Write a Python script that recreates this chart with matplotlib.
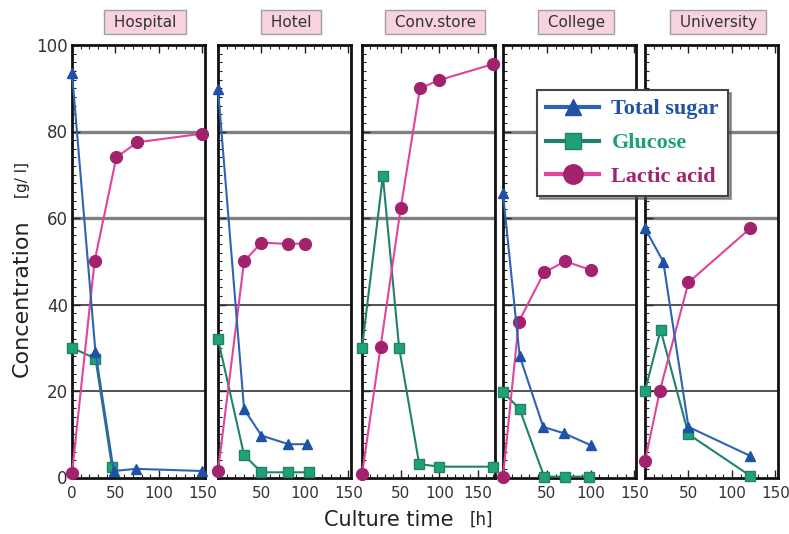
import matplotlib
matplotlib.use("Agg")
import matplotlib.pyplot as plt
from matplotlib.lines import Line2D
from matplotlib.ticker import MultipleLocator

# ---- data ----
panels = ["Hospital", "Hotel", "Conv.store", "College", "University"]

sugar_t = [[0, 27, 48, 74, 150], [0, 30, 50, 81, 102], [], [0, 19, 46, 70, 100], [0, 21, 50, 121]]
sugar_v = [[93.5, 29, 1.5, 2.0, 1.5], [89.8, 15.8, 9.7, 7.7, 7.7], [], [65.7, 28.1, 11.7, 10.2, 7.5], [57.6, 49.9, 11.7, 5.0]]

gluc_t = [[0, 27, 46], [0, 30, 50, 81, 105], [0, 27, 48, 74, 100, 170], [0, 19, 47, 71, 98], [0, 18, 50, 121]]
gluc_v = [[30, 27.5, 2.5], [32, 5.2, 1.2, 1.2, 1.2], [30, 69.7, 30, 3.1, 2.5, 2.5], [19.8, 15.8, 0.2, 0.2, 0.2], [20, 34.1, 10, 0.4]]

lact_t = [[0, 26, 51, 75, 150], [0, 30, 50, 81, 100], [0, 24, 50, 75, 100, 170], [0, 18, 47, 71, 100], [0, 17, 50, 121]]
lact_v = [[1, 50, 74, 77.5, 79.5], [1.5, 50, 54.3, 54, 54.1], [0.7, 30.2, 62.2, 90, 91.9, 95.6], [0.2, 36, 47.4, 50, 48], [3.7, 20, 45.1, 57.6]]

x_max = [153, 153, 172, 152, 153]
grid_levels = [20, 40, 60, 80]
legend_labels = ["Total sugar", "Glucose", "Lactic acid"]

# ---- colours ----
c_sugar = "#2e62b6"
c_sugar_m = "#1f52a6"
c_gluc = "#23806e"
c_gluc_m = "#1ea474"
c_lact = "#e0449c"
c_lact_m = "#a3226e"

fig = plt.figure(figsize=(7.89, 5.34), dpi=100)
W, H = 789.0, 534.0

lefts = [72, 218, 362, 503, 645]
bottom_px, top_px = 477.5, 45
pw = 133

for i, name in enumerate(panels):
    ax = fig.add_axes([lefts[i] / W, 1 - bottom_px / H, pw / W, (bottom_px - top_px) / H])
    ax.set_xlim(0, x_max[i])
    ax.set_ylim(0, 100)

    for g in grid_levels:
        if g >= 60:
            ax.axhline(g, color="#808080", lw=2.4, zorder=1)
        else:
            ax.axhline(g, color="#333333", lw=1.2, zorder=1)

    if sugar_t[i]:
        ax.plot(sugar_t[i], sugar_v[i], color=c_sugar, lw=1.5, marker="^", ms=6.5,
                mfc=c_sugar_m, mec=c_sugar_m, zorder=4, clip_on=False)
    ax.plot(gluc_t[i], gluc_v[i], color=c_gluc, lw=1.5, marker="s", ms=6.5,
            mfc=c_gluc_m, mec=c_gluc, zorder=3, clip_on=False)
    ax.plot(lact_t[i], lact_v[i], color=c_lact, lw=1.5, marker="o", ms=8.5,
            mfc=c_lact_m, mec=c_lact_m, zorder=3, clip_on=False)

    ax.xaxis.set_major_locator(MultipleLocator(50))
    ax.xaxis.set_minor_locator(MultipleLocator(10))
    ax.yaxis.set_major_locator(MultipleLocator(20))
    ax.yaxis.set_minor_locator(MultipleLocator(2))
    ax.tick_params(which="both", direction="in", top=True, bottom=True, left=True, right=False,
                   colors="#222222", labelcolor="#333333")
    ax.tick_params(which="major", length=6, width=1.0, labelsize=11)
    ax.tick_params(which="minor", length=3, width=0.8)
    ax.tick_params(axis="x", pad=6)

    ticks = [0, 50, 100, 150]
    ax.set_xticks(ticks)
    if i == 0:
        ax.set_xticklabels([str(t) for t in ticks])
        ax.tick_params(axis="y", labelsize=12, pad=3)
    else:
        ax.set_xticklabels([""] + [str(t) for t in ticks[1:]])
        ax.set_yticklabels([])

    for s in ax.spines.values():
        s.set_linewidth(2)
        s.set_color("#111111")

    ax.text(0.55, 1.053, " " + name + " ", transform=ax.transAxes, ha="center", va="center",
            fontsize=11, color="#333333",
            bbox=dict(boxstyle="square,pad=0.3", fc="#f8d2de", ec="#a0a0a0", lw=1))

# ---- legend ----
handles = [
    Line2D([], [], color=c_sugar, lw=3, marker="^", ms=11, mfc=c_sugar_m, mec=c_sugar_m),
    Line2D([], [], color=c_gluc, lw=3, marker="s", ms=11, mfc=c_gluc_m, mec=c_gluc),
    Line2D([], [], color=c_lact, lw=3, marker="o", ms=14, mfc=c_lact_m, mec=c_lact_m),
]
leg = fig.legend(handles, legend_labels, loc="upper left", bbox_to_anchor=(537 / W, 1 - 90 / H),
                 borderaxespad=0,
                 prop={"family": "Liberation Serif", "weight": "bold", "size": 16},
                 labelcolor=[c_sugar_m, c_gluc_m, c_lact_m], frameon=True, fancybox=False,
                 shadow=True, framealpha=1, edgecolor="#444444", handlelength=2.4,
                 handletextpad=0.55, labelspacing=0.6, borderpad=0.4)
leg.get_frame().set_linewidth(1.5)

# ---- axis titles ----
fig.text(22 / W, 1 - 298 / H, "Concentration", rotation=90, ha="center", va="center",
         fontsize=16, color="#222222")
fig.text(22 / W, 1 - 180 / H, "[g/ l]", rotation=90, ha="center", va="center",
         fontsize=11, color="#222222")
fig.text(389 / W, 1 - 520 / H, "Culture time", ha="center", va="center",
         fontsize=15, color="#222222")
fig.text(481 / W, 1 - 520 / H, "[h]", ha="center", va="center",
         fontsize=12, color="#222222")

fig.savefig("out.png", dpi=100)
